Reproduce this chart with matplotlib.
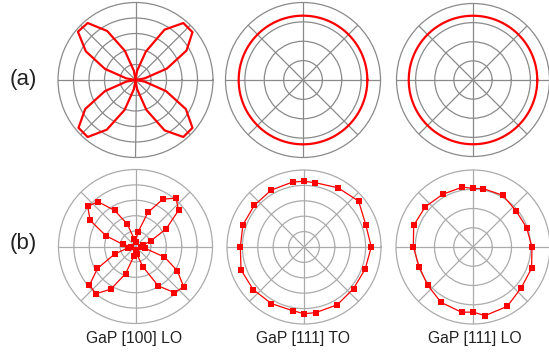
import numpy as np
import matplotlib
matplotlib.use("Agg")
import matplotlib.pyplot as plt

plt.rcParams['font.family'] = ['Liberation Sans', 'DejaVu Sans']

# ---- data ----
labels = ["GaP [100] LO", "GaP [111] TO", "GaP [111] LO"]
row_labels = ["(a)", "(b)"]

# (a) calculated
a1_angles = list(range(0, 361, 10))
a1_values = [0.0, 0.12, 0.43, 0.76, 0.96, 0.96, 0.75, 0.39, 0.12,
             0.0, 0.12, 0.40, 0.73, 0.96, 0.97, 0.74, 0.42, 0.12,
             0.0, 0.12, 0.42, 0.75, 0.96, 0.96, 0.74, 0.41, 0.12,
             0.0, 0.12, 0.41, 0.75, 0.96, 0.96, 0.75, 0.42, 0.12, 0.0]
a2_level = 0.83
a3_level = 0.84

# (b) measured
b1_angles = list(range(0, 360, 10))
b1_values = [0.07, 0.10, 0.21, 0.46, 0.73, 0.82, 0.71, 0.47, 0.19,
             0.06, 0.10, 0.31, 0.54, 0.76, 0.81, 0.68, 0.41, 0.17,
             0.06, 0.10, 0.29, 0.57, 0.78, 0.80, 0.64, 0.375, 0.13,
             0.05, 0.10, 0.28, 0.59, 0.78, 0.82, 0.625, 0.40, 0.12]
b_angles = [0, 20, 40, 60, 80, 90, 100, 120, 140, 160, 180, 200, 220,
            240, 260, 270, 280, 300, 320, 340]
b2_values = [0.874, 0.853, 0.926, 0.887, 0.848, 0.853, 0.857, 0.853, 0.842,
             0.844, 0.827, 0.87, 0.861, 0.848, 0.84, 0.866, 0.866, 0.866,
             0.84, 0.844]
b3_values = [0.766, 0.74, 0.73, 0.775, 0.77, 0.76, 0.79, 0.79, 0.81, 0.82,
             0.775, 0.745, 0.77, 0.83, 0.86, 0.845, 0.905, 0.89, 0.82, 0.81]

W, H = 549, 362
fig = plt.figure(figsize=(W / 100, H / 100), dpi=100)

def make_ax(cx, cy, r, rings, gcol):
    ax = fig.add_axes([(cx - r) / W, 1 - (cy + r) / H, 2 * r / W, 2 * r / H],
                      projection='polar')
    ax.set_ylim(0, 1)
    ax.set_yticks(rings)
    ax.set_xticks(np.deg2rad(np.arange(0, 360, 45)))
    ax.set_xticklabels([])
    ax.set_yticklabels([])
    ax.grid(True, color=gcol, linewidth=0.9)
    ax.spines['polar'].set_color(gcol)
    ax.spines['polar'].set_linewidth(0.9)
    ax.tick_params(length=0)
    return ax

ga = '#8a8a8a'
gb = '#ababab'
rings5 = [0.2, 0.4, 0.6, 0.8]
rings4 = [0.25, 0.5, 0.75]

red = '#ff0000'

ax = make_ax(135.5, 80, 77.5, rings5, ga)
ax.plot(np.deg2rad(a1_angles), a1_values, color=red, lw=1.6)

ax = make_ax(303, 80, 77.5, rings4, ga)
th = np.linspace(0, 2 * np.pi, 361)
ax.plot(th, np.full_like(th, a2_level), color=red, lw=1.6)

ax = make_ax(473, 80, 76.5, rings4, ga)
ax.plot(th, np.full_like(th, a3_level), color=red, lw=1.6)

def closed(a, v):
    return np.deg2rad(list(a) + [a[0]]), list(v) + [v[0]]

mk = dict(color=red, lw=0.9, marker='s', ms=4.2, mew=0, mfc=red)

ax = make_ax(135.5, 246.5, 77, rings5, gb)
t, v = closed(b1_angles, b1_values)
ax.plot(t, v, **mk)

ax = make_ax(304, 247, 77, rings5, gb)
t, v = closed(b_angles, b2_values)
ax.plot(t, v, **mk)

ax = make_ax(473, 247, 77, rings4, gb)
t, v = closed(b_angles, b3_values)
ax.plot(t, v, **mk)

fig.text(23 / W, 1 - 80 / H, row_labels[0], fontsize=16, ha='center', va='center', color='#222222')
fig.text(23 / W, 1 - 244 / H, row_labels[1], fontsize=16, ha='center', va='center', color='#222222')
for x, lab in zip([134, 303, 475], labels):
    fig.text(x / W, 1 - 338 / H, lab, fontsize=11.3, ha='center', va='center', color='#222222')

fig.savefig('out.png', dpi=100)
